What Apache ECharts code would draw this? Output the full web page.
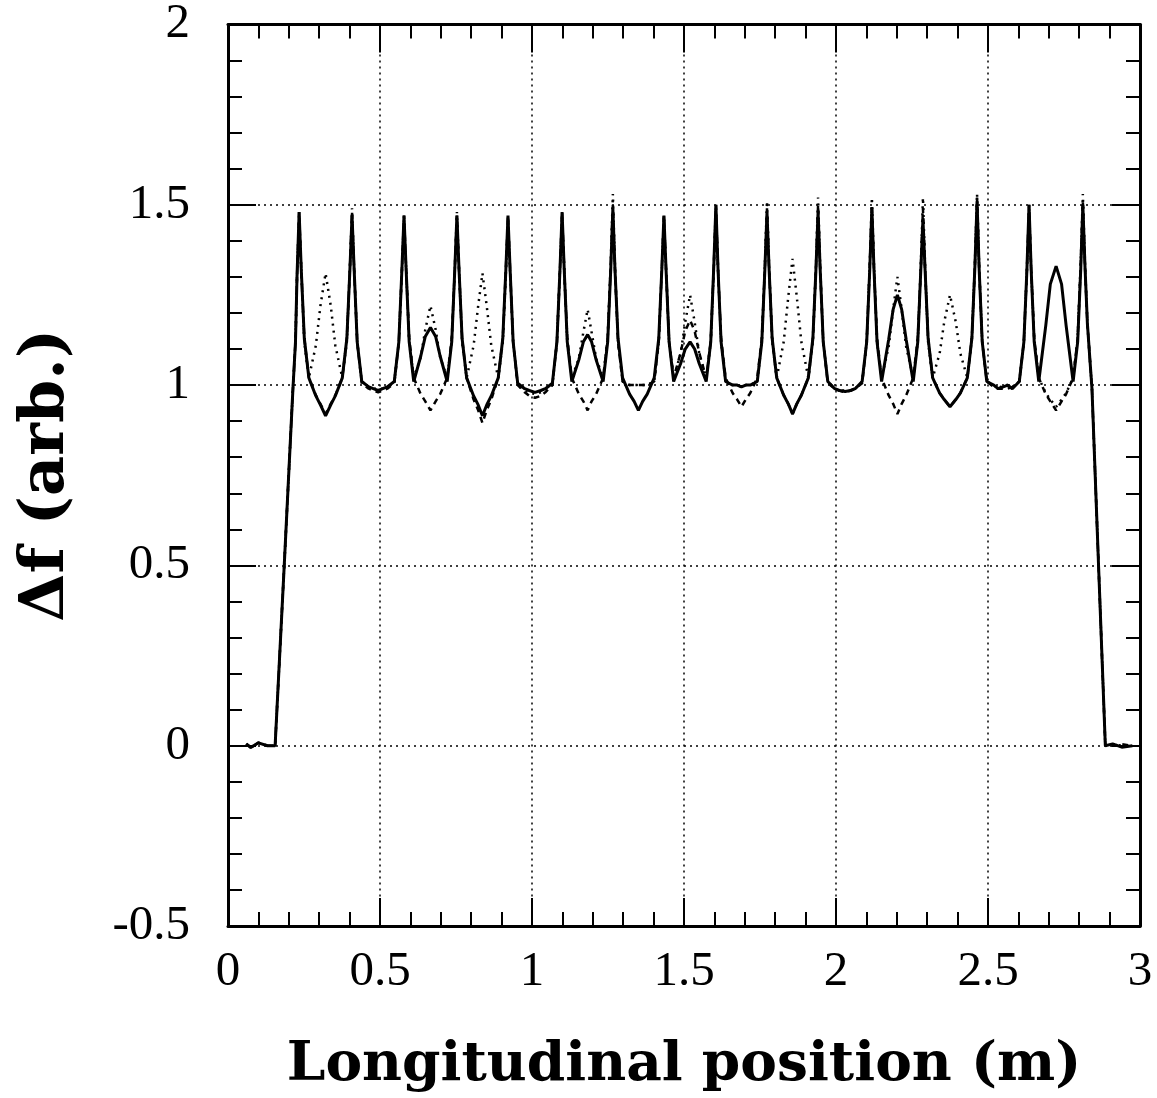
<!DOCTYPE html>
<html>
<head>
<meta charset="utf-8">
<script src="https://cdn.jsdelivr.net/npm/echarts@6/dist/echarts.min.js"></script>
<style>html,body{margin:0;padding:0;background:#fff}#c{width:1157px;height:1098px}</style>
</head>
<body>
<div id="c"></div>
<script>
// Longitudinal position (m) sample points
const xPos = [
0.06, 0.075, 0.1, 0.13, 0.155, 0.185, 0.213, 0.222, 0.227, 0.234,
0.241, 0.251, 0.266, 0.289, 0.304, 0.321, 0.338, 0.353, 0.376, 0.391, 0.401, 0.408,
0.415, 0.425, 0.440, 0.463, 0.478, 0.494, 0.509, 0.524, 0.547, 0.562, 0.572, 0.579,
0.586, 0.596, 0.611, 0.634, 0.649, 0.666, 0.683, 0.698, 0.721, 0.736, 0.746, 0.753,
0.760, 0.770, 0.785, 0.808, 0.823, 0.837, 0.851, 0.866, 0.889, 0.904, 0.914, 0.921,
0.928, 0.938, 0.953, 0.976, 0.991, 1.010, 1.029, 1.044, 1.067, 1.082, 1.092, 1.099,
1.106, 1.116, 1.131, 1.154, 1.169, 1.183, 1.196, 1.211, 1.234, 1.249, 1.259, 1.266,
1.273, 1.283, 1.298, 1.321, 1.336, 1.350, 1.364, 1.379, 1.402, 1.417, 1.427, 1.434,
1.441, 1.451, 1.466, 1.489, 1.504, 1.520, 1.535, 1.550, 1.573, 1.588, 1.598, 1.605,
1.612, 1.622, 1.637, 1.660, 1.675, 1.689, 1.703, 1.718, 1.741, 1.756, 1.766, 1.773,
1.780, 1.790, 1.805, 1.828, 1.843, 1.857, 1.871, 1.886, 1.909, 1.924, 1.934, 1.941,
1.948, 1.958, 1.973, 1.996, 2.011, 2.030, 2.048, 2.063, 2.086, 2.101, 2.111, 2.118,
2.125, 2.135, 2.150, 2.173, 2.188, 2.202, 2.216, 2.231, 2.254, 2.269, 2.279, 2.286,
2.293, 2.303, 2.318, 2.341, 2.356, 2.375, 2.394, 2.409, 2.432, 2.447, 2.457, 2.464,
2.471, 2.481, 2.496, 2.519, 2.534, 2.550, 2.565, 2.580, 2.603, 2.618, 2.628, 2.635,
2.642, 2.652, 2.667, 2.690, 2.705, 2.724, 2.742, 2.757, 2.780, 2.795, 2.805, 2.812,
2.819, 2.827, 2.842, 2.865, 2.886, 2.91, 2.94, 2.975
];

// Δf (arb.), solid curve
const solidY = [
0.005, -0.005, 0.008, 0.0, 0.0, 0.5, 0.98, 1.12, 1.3, 1.48,
1.32, 1.13, 1.02, 0.97, 0.945, 0.915, 0.945, 0.97, 1.02, 1.13, 1.32, 1.47,
1.32, 1.12, 1.01, 0.995, 0.99, 0.985, 0.99, 0.995, 1.01, 1.12, 1.32, 1.47,
1.32, 1.12, 1.01, 1.08, 1.135, 1.16, 1.135, 1.08, 1.01, 1.12, 1.32, 1.47,
1.32, 1.13, 1.02, 0.97, 0.945, 0.915, 0.945, 0.97, 1.02, 1.13, 1.32, 1.47,
1.32, 1.12, 1.005, 0.99, 0.985, 0.98, 0.985, 0.99, 1.005, 1.12, 1.32, 1.48,
1.32, 1.12, 1.01, 1.07, 1.12, 1.14, 1.12, 1.07, 1.01, 1.12, 1.32, 1.49,
1.32, 1.13, 1.02, 0.975, 0.955, 0.93, 0.955, 0.975, 1.02, 1.13, 1.32, 1.47,
1.32, 1.12, 1.01, 1.06, 1.10, 1.12, 1.10, 1.06, 1.01, 1.12, 1.33, 1.50,
1.32, 1.12, 1.01, 1.0, 1.0, 0.995, 1.0, 1.0, 1.01, 1.12, 1.32, 1.48,
1.32, 1.13, 1.02, 0.972, 0.948, 0.92, 0.948, 0.972, 1.02, 1.13, 1.32, 1.48,
1.32, 1.12, 1.01, 0.99, 0.985, 0.982, 0.985, 0.99, 1.01, 1.12, 1.32, 1.49,
1.32, 1.12, 1.01, 1.125, 1.21, 1.25, 1.21, 1.125, 1.01, 1.12, 1.32, 1.46,
1.32, 1.13, 1.02, 0.978, 0.96, 0.94, 0.96, 0.978, 1.02, 1.13, 1.33, 1.51,
1.32, 1.12, 1.01, 1.0, 0.99, 0.995, 1.0, 0.99, 1.01, 1.12, 1.32, 1.50,
1.32, 1.12, 1.01, 1.165, 1.28, 1.33, 1.28, 1.165, 1.01, 1.12, 1.32, 1.50,
1.33, 1.17, 0.99, 0.47, 0.0, 0.005, -0.004, 0.0
];

// Δf (arb.), dashed curve
const dashedY = [
0.005, -0.005, 0.008, 0.0, 0.0, 0.5, 0.98, 1.12, 1.3, 1.48,
1.32, 1.13, 1.02, 0.972, 0.948, 0.92, 0.948, 0.972, 1.02, 1.13, 1.32, 1.48,
1.32, 1.12, 1.005, 0.99, 0.985, 0.98, 0.985, 0.99, 1.005, 1.12, 1.32, 1.47,
1.32, 1.13, 1.02, 0.975, 0.955, 0.93, 0.955, 0.975, 1.02, 1.13, 1.32, 1.47,
1.32, 1.13, 1.02, 0.96, 0.93, 0.895, 0.93, 0.96, 1.02, 1.13, 1.32, 1.47,
1.32, 1.12, 1.0, 0.98, 0.97, 0.965, 0.97, 0.98, 1.0, 1.12, 1.32, 1.48,
1.32, 1.13, 1.02, 0.975, 0.955, 0.93, 0.955, 0.975, 1.02, 1.13, 1.33, 1.50,
1.32, 1.12, 1.01, 1.0, 1.0, 1.0, 1.0, 1.0, 1.01, 1.12, 1.32, 1.47,
1.32, 1.12, 1.02, 1.09, 1.15, 1.18, 1.15, 1.09, 1.02, 1.12, 1.33, 1.50,
1.32, 1.13, 1.02, 0.978, 0.96, 0.94, 0.96, 0.978, 1.02, 1.13, 1.32, 1.49,
1.32, 1.13, 1.02, 0.972, 0.948, 0.92, 0.948, 0.972, 1.02, 1.13, 1.32, 1.50,
1.32, 1.12, 1.005, 0.99, 0.985, 0.98, 0.985, 0.99, 1.005, 1.12, 1.33, 1.50,
1.32, 1.13, 1.02, 0.972, 0.948, 0.92, 0.948, 0.972, 1.02, 1.13, 1.32, 1.49,
1.32, 1.13, 1.02, 0.978, 0.96, 0.94, 0.96, 0.978, 1.02, 1.13, 1.33, 1.52,
1.32, 1.12, 1.01, 0.995, 0.99, 0.99, 0.99, 0.995, 1.01, 1.12, 1.32, 1.50,
1.32, 1.13, 1.02, 0.975, 0.955, 0.93, 0.955, 0.975, 1.02, 1.13, 1.33, 1.51,
1.33, 1.17, 0.99, 0.47, 0.0, 0.0, 0.004, 0.0
];

// Δf (arb.), dotted curve
const dottedY = [
0.005, -0.005, 0.008, 0.0, 0.0, 0.5, 0.98, 1.12, 1.3, 1.47,
1.32, 1.12, 1.02, 1.11, 1.22, 1.31, 1.22, 1.11, 1.02, 1.12, 1.33, 1.49,
1.32, 1.12, 1.01, 0.995, 0.99, 0.99, 0.99, 0.995, 1.01, 1.12, 1.31, 1.46,
1.32, 1.12, 1.02, 1.077, 1.154, 1.22, 1.154, 1.077, 1.02, 1.12, 1.32, 1.48,
1.32, 1.12, 1.02, 1.11, 1.22, 1.31, 1.22, 1.11, 1.02, 1.12, 1.31, 1.46,
1.31, 1.12, 1.0, 0.985, 0.98, 0.975, 0.98, 0.985, 1.0, 1.12, 1.32, 1.47,
1.32, 1.12, 1.02, 1.074, 1.147, 1.21, 1.147, 1.074, 1.02, 1.13, 1.34, 1.53,
1.33, 1.12, 1.01, 1.0, 1.0, 1.0, 1.0, 1.0, 1.01, 1.12, 1.32, 1.47,
1.32, 1.12, 1.02, 1.088, 1.175, 1.25, 1.175, 1.088, 1.02, 1.12, 1.32, 1.49,
1.32, 1.12, 1.01, 1.0, 1.0, 0.995, 1.0, 1.0, 1.01, 1.12, 1.33, 1.51,
1.33, 1.12, 1.02, 1.12, 1.245, 1.35, 1.245, 1.12, 1.02, 1.12, 1.33, 1.52,
1.33, 1.12, 1.01, 0.99, 0.985, 0.985, 0.985, 0.99, 1.01, 1.12, 1.33, 1.52,
1.33, 1.12, 1.02, 1.105, 1.21, 1.30, 1.21, 1.105, 1.02, 1.12, 1.33, 1.52,
1.33, 1.12, 1.02, 1.088, 1.175, 1.25, 1.175, 1.088, 1.02, 1.13, 1.34, 1.53,
1.33, 1.12, 1.01, 1.0, 0.99, 1.0, 1.0, 0.995, 1.01, 1.12, 1.32, 1.49,
1.32, 1.13, 1.02, 0.978, 0.96, 0.94, 0.96, 0.978, 1.02, 1.13, 1.34, 1.53,
1.34, 1.17, 0.99, 0.47, 0.0, 0.003, 0.0, -0.003
];

const xTitle = 'Longitudinal position (m)';
const yTitle = 'Δf (arb.)';

const zip = ys => xPos.map((x, i) => [x, ys[i]]);
const labelFont = { fontFamily: 'Liberation Serif', fontSize: 49, color: '#000' };
const titleFont = { fontFamily: 'DejaVu Serif', fontWeight: 'bold', color: '#000' };

const chart = echarts.init(document.getElementById('c'), null, { renderer: 'canvas' });

const xCommon = {
  type: 'value', min: 0, max: 3, interval: 0.5,
  axisLine: { show: true, onZero: false, lineStyle: { color: '#000', width: 3 } },
  axisTick: { show: true, inside: true, length: 28, lineStyle: { color: '#000', width: 2 } },
  minorTick: { show: true, splitNumber: 5, length: 14, lineStyle: { color: '#000', width: 2 } }
};
const yCommon = {
  type: 'value', min: -0.5, max: 2, interval: 0.5,
  axisLine: { show: true, onZero: false, lineStyle: { color: '#000', width: 3 } },
  axisTick: { show: true, inside: true, length: 28, lineStyle: { color: '#000', width: 2 } },
  minorTick: { show: true, splitNumber: 5, length: 14, lineStyle: { color: '#000', width: 2 } }
};

chart.setOption({
  animation: false,
  backgroundColor: '#fff',
  grid: { left: 228, right: 17, top: 20, bottom: 171, containLabel: false },
  xAxis: [
    Object.assign({}, xCommon, {
      position: 'bottom',
      axisLabel: Object.assign({ margin: 22 }, labelFont),
      splitLine: { show: true, lineStyle: { color: '#000', width: 1.5, type: [2, 4] } },
      name: xTitle, nameLocation: 'middle', nameGap: 112,
      nameTextStyle: Object.assign({ fontSize: 55 }, titleFont)
    }),
    Object.assign({}, xCommon, { position: 'top', axisLabel: { show: false }, splitLine: { show: false } })
  ],
  yAxis: [
    Object.assign({}, yCommon, {
      position: 'left',
      axisLabel: Object.assign({ margin: 38 }, labelFont),
      splitLine: { show: true, lineStyle: { color: '#000', width: 1.5, type: [2, 4] } },
      name: yTitle, nameLocation: 'middle', nameGap: 150,
      nameTextStyle: Object.assign({ fontSize: 62 }, titleFont)
    }),
    Object.assign({}, yCommon, { position: 'right', axisLabel: { show: false }, splitLine: { show: false } })
  ],
  series: [
    { type: 'line', data: zip(dottedY), showSymbol: false, symbol: 'none',
      lineStyle: { color: '#000', width: 2.5, type: [2, 5] }, z: 3 },
    { type: 'line', data: zip(dashedY), showSymbol: false, symbol: 'none',
      lineStyle: { color: '#000', width: 2.5, type: [6, 5] }, z: 4 },
    { type: 'line', data: zip(solidY), showSymbol: false, symbol: 'none',
      lineStyle: { color: '#000', width: 3 }, z: 5 }
  ]
});
</script>
</body>
</html>
